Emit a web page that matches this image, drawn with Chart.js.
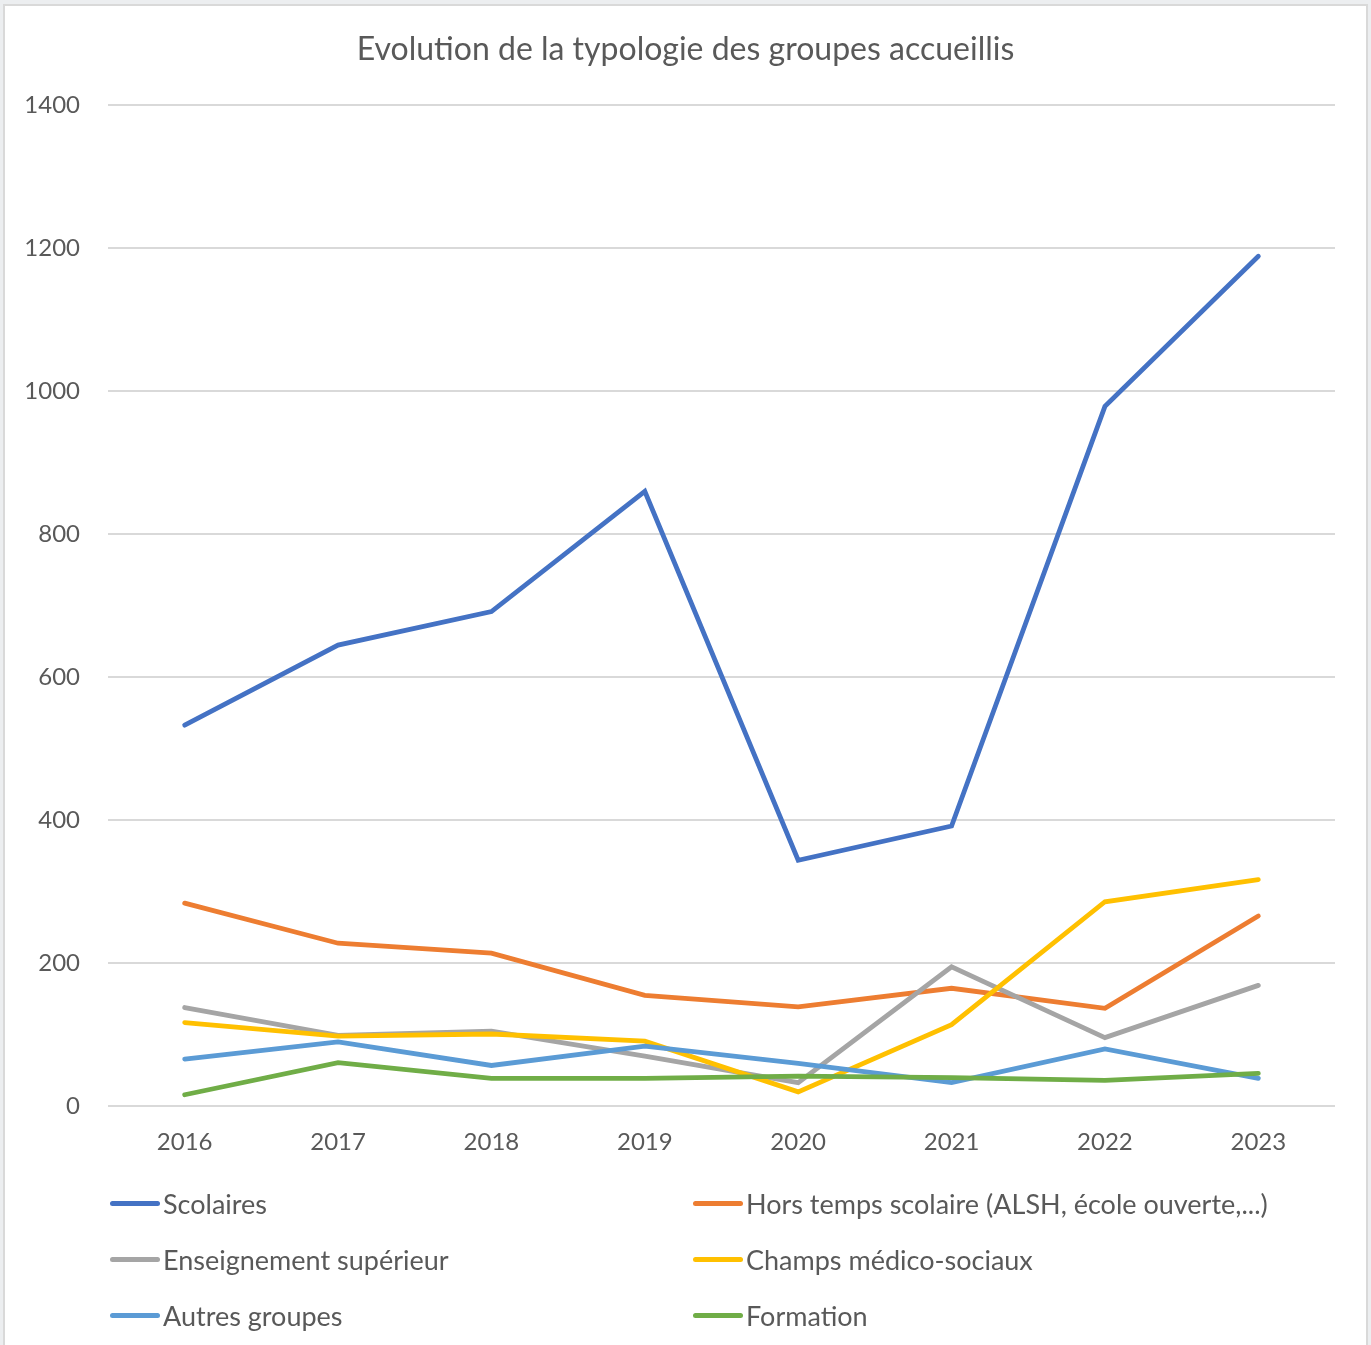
<!DOCTYPE html>
<html>
<head>
<meta charset="utf-8">
<script src="https://cdn.jsdelivr.net/npm/chart.js@4.4.1/dist/chart.umd.min.js"></script>
<style>
  html, body { margin: 0; padding: 0; background: #eceef0; }
  body { width: 1371px; height: 1345px; overflow: hidden; position: relative; }
  #frame {
    position: absolute; left: 3px; top: 4px; width: 1361px; height: 1360px;
    background: #fff; border: 2px solid #d9d9d9;
  }
  #chartBox { position: absolute; left: -5px; top: -6px; width: 1371px; height: 1196px; }
  #legend { position: absolute; left: -5px; top: -6px; width: 1371px; height: 1345px; pointer-events: none; }
  .item { position: absolute; display: flex; align-items: center; font-family: Lato, "Open Sans", sans-serif; font-size: 27px; color: #595959; white-space: nowrap; }
  .item .mark { width: 50px; height: 5px; border-radius: 3px; margin-right: 3px; }
</style>
</head>
<body>
<div id="frame">
  <div id="chartBox"><canvas id="chartContainer"></canvas></div>
  <div id="legend"></div>
</div>
<script>
// years on the x axis
const years = ['2016', '2017', '2018', '2019', '2020', '2021', '2022', '2023'];

// series
const scolaires = [533, 645, 692, 860, 344, 392, 979, 1189];
const horsTempsScolaire = [284, 228, 214, 155, 139, 165, 137, 266];
const enseignementSup = [138, 99, 105, 70, 33, 195, 96, 169];
const champsMedicoSociaux = [117, 98, 101, 91, 20, 114, 286, 317];
const autresGroupes = [66, 90, 57, 84, 60, 33, 80, 39];
const formation = [16, 61, 39, 39, 42, 40, 36, 46];

const seriesNames = [
    'Scolaires',
    'Hors temps scolaire (ALSH, école ouverte,...)',
    'Enseignement supérieur',
    'Champs médico-sociaux',
    'Autres groupes',
    'Formation'
];
const seriesData = [scolaires, horsTempsScolaire, enseignementSup, champsMedicoSociaux, autresGroupes, formation];
const seriesColors = ['#4472C4', '#ED7D31', '#A5A5A5', '#FFC000', '#5B9BD5', '#70AD47'];

const textColor = '#595959';
const fontFamily = 'Lato, "Open Sans", sans-serif';

let datasets = seriesNames.map((name, i) => ({
    label: name,
    data: seriesData[i],
    borderColor: seriesColors[i],
    backgroundColor: seriesColors[i],
    borderWidth: 4.8,
    borderCapStyle: 'round',
    borderJoinStyle: 'miter',
    pointRadius: 0,
    tension: 0,
    fill: false,
    order: seriesNames.length - i // later series painted on top, like excel
}));

let ctx = document.getElementById('chartContainer');
let chart = new Chart(ctx, {
    type: 'line',
    data: { labels: years, datasets: datasets },
    options: {
        responsive: true,
        maintainAspectRatio: false,
        animation: false,
        layout: { padding: { left: 0, right: 0, top: 0, bottom: 17 } },
        plugins: {
            legend: { display: false },
            tooltip: { enabled: false },
            title: {
                display: true,
                text: 'Evolution de la typologie des groupes accueillis',
                color: textColor,
                font: { family: fontFamily, size: 32, weight: 'normal' },
                padding: { top: 30, bottom: 37 }
            }
        },
        scales: {
            x: {
                offset: true,
                grid: { display: false, drawTicks: false },
                border: { display: false },
                ticks: { color: textColor, font: { family: fontFamily, size: 24 }, padding: 22 }
            },
            y: {
                min: 0,
                max: 1400,
                afterFit: (scale) => { scale.width = 108; },
                grid: { color: '#d9d9d9', lineWidth: 2, drawTicks: false },
                border: { display: false },
                ticks: {
                    stepSize: 200,
                    color: textColor,
                    font: { family: fontFamily, size: 24 },
                    padding: 28,
                    callback: (value) => String(value)
                }
            },
            // empty right axis, only keeps the right margin so the title stays centred
            yRight: {
                position: 'right',
                afterFit: (scale) => { scale.width = 36; },
                grid: { display: false, drawTicks: false },
                border: { display: false },
                ticks: { display: false }
            }
        }
    }
});

// legend in two columns, built from the chart datasets
let legendEl = document.getElementById('legend');
let colX = [110, 693];
let rowY = [1203, 1259, 1315];
chart.data.datasets.forEach((ds, i) => {
    let item = document.createElement('div');
    item.className = 'item';
    item.style.left = colX[i % 2] + 'px';
    item.style.top = (rowY[Math.floor(i / 2)] - 16) + 'px';
    item.style.height = '32px';
    item.innerHTML = `<span class="mark" style="background:${ds.borderColor}"></span><span>${ds.label}</span>`;
    legendEl.appendChild(item);
});
</script>
</body>
</html>
